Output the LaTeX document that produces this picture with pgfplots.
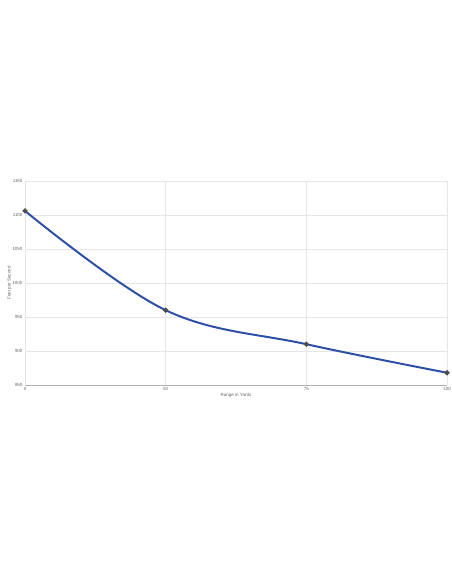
\documentclass[border=0pt]{standalone}
\usepackage{fontspec}
\setmainfont{Liberation Sans}
\usepackage{pgfplots}
\pgfplotsset{compat=1.18}
\definecolor{lineblue}{HTML}{2E4FA6}
\definecolor{gridgray}{HTML}{E6E6E6}
\definecolor{txtgray}{HTML}{666666}
\begin{document}
\begin{tikzpicture}[x=1bp,y=1bp]
\path[use as bounding box] (0,0) rectangle (452,584);
\begin{axis}[
  at={(25bp,199bp)}, anchor=south west,
  scale only axis, width=422bp, height=204bp,
  xmin=0, xmax=3, ymin=850, ymax=1150,
  xtick={0,1,2,3}, xticklabels={0,50,75,100},
  ytick={850,900,...,1150},
  grid=major, major grid style={gridgray, line width=0.5pt},
  axis line style={draw=none},
  tick style={draw=none},
  ticklabel style={font=\fontsize{4.5}{5}\selectfont, text=txtgray},
  /pgf/number format/assume math mode=true,
  /pgf/number format/1000 sep={},
  xticklabel style={yshift=1bp},
  yticklabel style={xshift=1bp},
  xlabel={Range in Yards}, ylabel={Feet per Second},
  label style={font=\fontsize{4.5}{5}\selectfont, text=txtgray},
  xlabel style={yshift=4bp},
  ylabel style={yshift=-6bp},
  clip=false,
]
\draw[gray!60, line width=0.6pt] (axis cs:0,850) -- (axis cs:3,850);
\addplot[lineblue, line width=2pt, smooth, tension=0.6, mark=*, mark size=1.4pt,
  mark options={fill=black!70, draw=black!70}]
  coordinates {(0,1106) (1,960) (2,910) (3,868)};
\end{axis}
\end{tikzpicture}
\end{document}
